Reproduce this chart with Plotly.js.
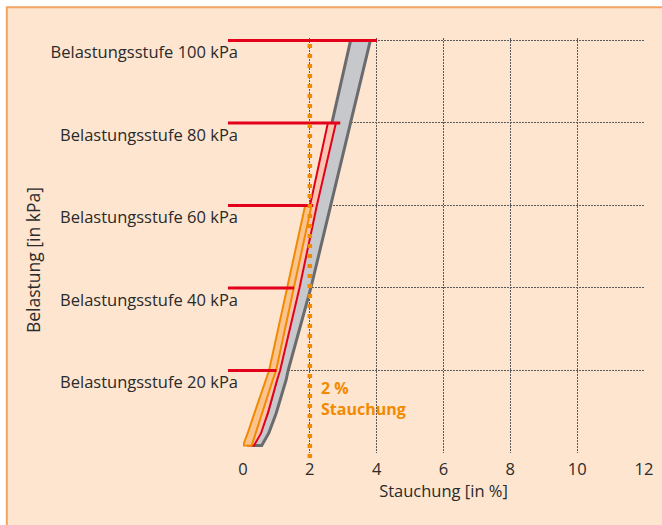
<!DOCTYPE html>
<html>
<head>
<meta charset="utf-8">
<script src="https://cdn.plot.ly/plotly-3.0.1.min.js"></script>
<style>html,body{margin:0;padding:0;background:#fff}#chart{width:662px;height:525px}</style>
</head>
<body>
<div id="chart"></div>
<script>
// ---- data ----
// load levels (kPa) and their tick labels
const levels = [20, 40, 60, 80, 100];
const levelLabels = ['Belastungsstufe 20 kPa', 'Belastungsstufe 40 kPa', 'Belastungsstufe 60 kPa',
                     'Belastungsstufe 80 kPa', 'Belastungsstufe 100 kPa'];
// end of each red load line (Stauchung in %)
const levelLineEnd = [1.0, 1.53, 2.1, 2.91, 4.01];

// orange band (up to 60 kPa)
const orangeLoad  = [1.8, 4.8, 9.6, 17.7, 20, 40, 60];
const orangeLeft  = [0.00, 0.14, 0.34, 0.69, 0.78, 1.32, 1.86];
const orangeRight = [0.26, 0.37, 0.57, 0.89, 0.99, 1.53, 2.05];

// red band (up to 80 kPa)
const redLoad  = [1.8, 4.8, 9.6, 17.7, 20, 40, 60, 80];
const redLeft  = [0.12, 0.30, 0.55, 0.82, 0.89, 1.47, 2.00, 2.54];
const redRight = [0.33, 0.54, 0.74, 1.02, 1.11, 1.69, 2.21, 2.78];

// grey band (up to 100 kPa)
const greyLoad  = [1.8, 4.8, 9.6, 17.7, 20, 40, 60, 80, 100];
const greyLeft  = [0.26, 0.47, 0.73, 1.00, 1.05, 1.62, 2.10, 2.66, 3.22];
const greyRight = [0.56, 0.77, 0.99, 1.29, 1.35, 2.03, 2.64, 3.22, 3.81];

// 2 % compression limit
const limitStrain = 2;

const xTicks = [0, 2, 4, 6, 8, 10, 12];

// ---- styles ----
const FONT = 'Open Sans, DejaVu Sans, sans-serif';
const RED = '#e3001b';
const ORANGE = '#f18a00';
const PEACH = '#fde5d0';
const TEXT = '#2a2a2a';
const GRID = '#5a5a5a';

function band(load, left, right, lineColor, lineWidth, fill) {
  const x = left.concat(right.slice().reverse(), [left[0]]);
  const y = load.concat(load.slice().reverse(), [load[0]]);
  return {type: 'scatter', mode: 'lines', x: x, y: y, fill: 'toself', fillcolor: fill,
          line: {color: lineColor, width: lineWidth},
          hoverinfo: 'skip', showlegend: false};
}

const lx = [], ly = [];
levels.forEach((v, i) => { lx.push(0, levelLineEnd[i], null); ly.push(v, v, null); });

const traces = [
  band(greyLoad, greyLeft, greyRight, '#6b6b6d', 3, '#c7c8cc'),
  band(redLoad, redLeft, redRight, RED, 2, '#f8c6b0'),
  band(orangeLoad, orangeLeft, orangeRight, ORANGE, 2, '#fbc48e'),
  {type: 'scatter', mode: 'lines', x: lx, y: ly, line: {color: RED, width: 3},
   hoverinfo: 'skip', showlegend: false}
];

const shapes = [
  {type: 'rect', xref: 'paper', yref: 'paper', x0: -0.589, x1: 1.3, y0: -0.4, y1: 1.074,
   fillcolor: PEACH, line: {color: '#f4a460', width: 2}, layer: 'below'},
  {type: 'line', xref: 'x', yref: 'paper', x0: limitStrain, x1: limitStrain, y0: -0.012, y1: 1.0,
   line: {color: ORANGE, width: 4.5, dash: '4px,6px'}, layer: 'above'}
];
levels.forEach(v => shapes.push({type: 'line', xref: 'paper', yref: 'y', x0: -0.0374, x1: 0,
  y0: v, y1: v, line: {color: RED, width: 3}, layer: 'above'}));

const layout = {
  width: 662, height: 525,
  margin: {l: 243, r: 18, t: 37.5, b: 72},
  paper_bgcolor: '#ffffff', plot_bgcolor: 'rgba(0,0,0,0)',
  font: {family: FONT, color: TEXT, size: 16},
  showlegend: false,
  xaxis: {range: [0, 12], tickvals: xTicks, ticktext: xTicks.map(String),
          showgrid: true, gridcolor: GRID, griddash: '2px,1px', gridwidth: 1,
          zeroline: false, showline: false, ticks: '', fixedrange: true,
          ticklabelstandoff: 4,
          tickfont: {size: 16.5, color: TEXT},
          title: {text: 'Stauchung [in %]', font: {size: 16.5, color: TEXT}, standoff: 4}},
  yaxis: {range: [0, 100.6], tickvals: [0].concat(levels), ticktext: [''].concat(levelLabels),
          showgrid: true, gridcolor: GRID, griddash: '2px,1px', gridwidth: 1,
          zeroline: false, showline: false, ticks: '', fixedrange: true,
          ticklabelshift: 12, ticklabelstandoff: 4,
          tickfont: {size: 16.5, color: TEXT}},
  shapes: shapes,
  annotations: [
    {xref: 'paper', yref: 'paper', x: -0.5237, y: 0.465, xanchor: 'center', yanchor: 'middle',
     textangle: -90, text: 'Belastung [in kPa]', showarrow: false,
     font: {family: FONT, size: 17.5, color: TEXT}},
    {xref: 'x', yref: 'y', x: 2.27, y: 13.1, xanchor: 'left', yanchor: 'middle', align: 'left',
     text: '<b>2 %</b><br><b>Stauchung</b>', showarrow: false,
     font: {family: FONT, size: 16, color: ORANGE}}
  ]
};

Plotly.newPlot('chart', traces, layout, {staticPlot: true, displayModeBar: false});
</script>
</body>
</html>
